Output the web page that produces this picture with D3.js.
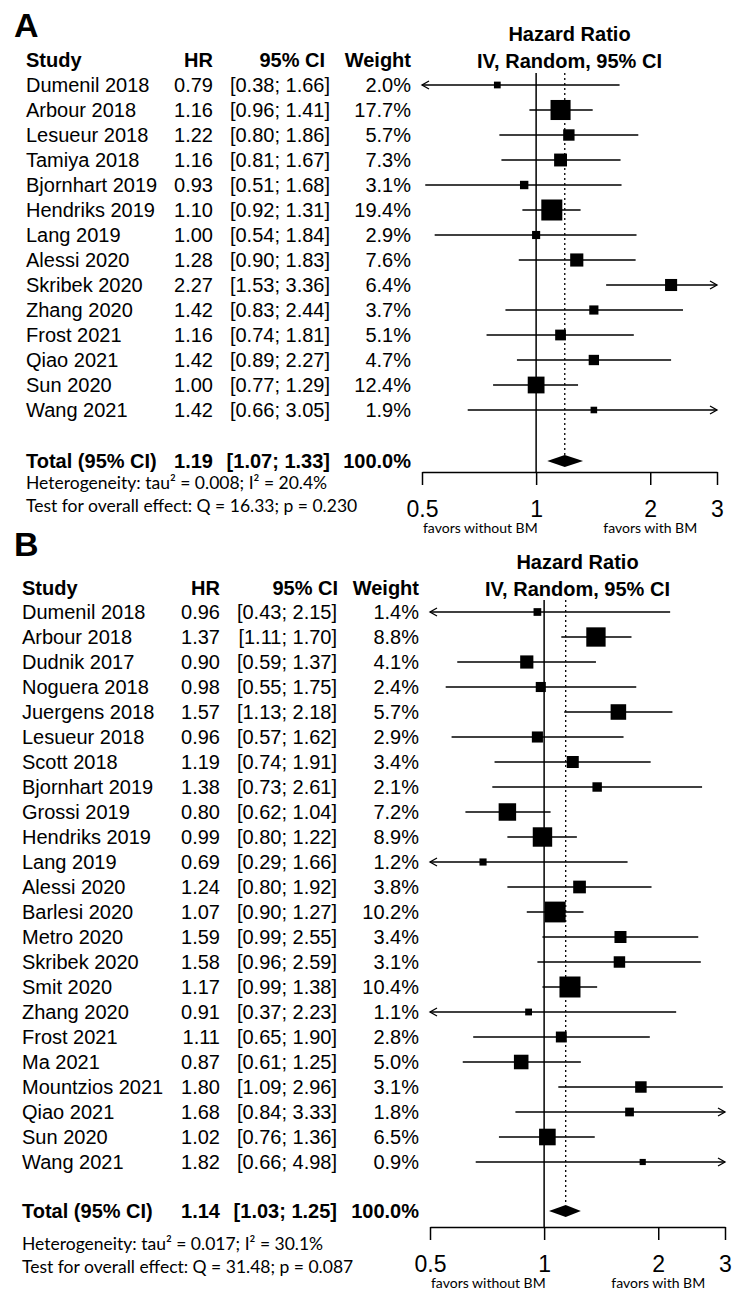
<!DOCTYPE html>
<html>
<head>
<meta charset="utf-8">
<script src="https://cdn.jsdelivr.net/npm/d3@7"></script>
<style>
  body { margin: 0; background: #fff; }
  svg text { font-family: "Liberation Sans", Arial, sans-serif; fill: #000; }
  .note { font-family: Lato, "Open Sans", sans-serif; }
</style>
</head>
<body>
<script>
// panel A data
const studiesA = ["Dumenil 2018","Arbour 2018","Lesueur 2018","Tamiya 2018","Bjornhart 2019","Hendriks 2019","Lang 2019","Alessi 2020","Skribek 2020","Zhang 2020","Frost 2021","Qiao 2021","Sun 2020","Wang 2021"];
const hrA    = [0.79,1.16,1.22,1.16,0.93,1.10,1.00,1.28,2.27,1.42,1.16,1.42,1.00,1.42];
const lowerA = [0.38,0.96,0.80,0.81,0.51,0.92,0.54,0.90,1.53,0.83,0.74,0.89,0.77,0.66];
const upperA = [1.66,1.41,1.86,1.67,1.68,1.31,1.84,1.83,3.36,2.44,1.81,2.27,1.29,3.05];
const weightA = [2.0,17.7,5.7,7.3,3.1,19.4,2.9,7.6,6.4,3.7,5.1,4.7,12.4,1.9];
const totalA = [1.19,1.07,1.33];
const notesA = ["Heterogeneity: tau\u00b2 = 0.008; I\u00b2 = 20.4%", "Test for overall effect: Q = 16.33; p = 0.230"];

// panel B data
const studiesB = ["Dumenil 2018","Arbour 2018","Dudnik 2017","Noguera 2018","Juergens 2018","Lesueur 2018","Scott 2018","Bjornhart 2019","Grossi 2019","Hendriks 2019","Lang 2019","Alessi 2020","Barlesi 2020","Metro 2020","Skribek 2020","Smit 2020","Zhang 2020","Frost 2021","Ma 2021","Mountzios 2021","Qiao 2021","Sun 2020","Wang 2021"];
const hrB    = [0.96,1.37,0.90,0.98,1.57,0.96,1.19,1.38,0.80,0.99,0.69,1.24,1.07,1.59,1.58,1.17,0.91,1.11,0.87,1.80,1.68,1.02,1.82];
const lowerB = [0.43,1.11,0.59,0.55,1.13,0.57,0.74,0.73,0.62,0.80,0.29,0.80,0.90,0.99,0.96,0.99,0.37,0.65,0.61,1.09,0.84,0.76,0.66];
const upperB = [2.15,1.70,1.37,1.75,2.18,1.62,1.91,2.61,1.04,1.22,1.66,1.92,1.27,2.55,2.59,1.38,2.23,1.90,1.25,2.96,3.33,1.36,4.98];
const weightB = [1.4,8.8,4.1,2.4,5.7,2.9,3.4,2.1,7.2,8.9,1.2,3.8,10.2,3.4,3.1,10.4,1.1,2.8,5.0,3.1,1.8,6.5,0.9];
const totalB = [1.14,1.03,1.25];
const notesB = ["Heterogeneity: tau\u00b2 = 0.017; I\u00b2 = 30.1%", "Test for overall effect: Q = 31.48; p = 0.087"];

const ticks = [0.5, 1, 2, 3];

const svg = d3.select("body").append("svg")
    .attr("width", 751)
    .attr("height", 1294);

function drawPanel(o) {
    const g = svg.append("g");
    const n = o.studies.length;
    const x = d3.scaleLog().domain([0.5, 3]).range(o.xr);
    const y = d3.scaleLinear().domain([0, n - 1]).range([o.top, o.top + (n - 1) * 25]);
    const side = d3.scaleSqrt().domain([0, d3.max(o.weight)]).range([0, 21]);
    const mid = (o.xr[0] + o.xr[1]) / 2;

    g.append("text").attr("x", 14).attr("y", o.labelY)
        .style("font-size", "34px").style("font-weight", "bold").text(o.label);

    // column headers
    const hdr = g.append("g").style("font-size", "20px").style("font-weight", "bold");
    hdr.append("text").attr("x", o.col.study).attr("y", o.headY).text("Study");
    hdr.append("text").attr("x", o.col.hr).attr("y", o.headY).attr("text-anchor", "end").text("HR");
    hdr.append("text").attr("x", o.col.ciHead).attr("y", o.headY).attr("text-anchor", "end").text("95% CI");
    hdr.append("text").attr("x", o.col.w).attr("y", o.headY).attr("text-anchor", "end").text("Weight");
    hdr.append("text").attr("x", mid).attr("y", o.headY - 26).attr("text-anchor", "middle").text("Hazard Ratio");
    hdr.append("text").attr("x", mid).attr("y", o.headY + 1).attr("text-anchor", "middle").text("IV, Random, 95% CI");

    // study rows text
    const rows = g.selectAll(".row").data(o.studies).enter().append("g")
        .style("font-size", "20px");
    rows.append("text").attr("x", o.col.study).attr("y", (d, i) => y(i) + 7).text(d => d);
    rows.append("text").attr("x", o.col.hr).attr("y", (d, i) => y(i) + 7).attr("text-anchor", "end")
        .text((d, i) => o.hr[i].toFixed(2));
    rows.append("text").attr("x", o.col.ci).attr("y", (d, i) => y(i) + 7).attr("text-anchor", "end")
        .text((d, i) => `[${o.lower[i].toFixed(2)}; ${o.upper[i].toFixed(2)}]`);
    rows.append("text").attr("x", o.col.w).attr("y", (d, i) => y(i) + 7).attr("text-anchor", "end")
        .text((d, i) => o.weight[i].toFixed(1) + "%");

    // total row
    const tot = g.append("g").style("font-size", "20px").style("font-weight", "bold");
    tot.append("text").attr("x", o.col.study).attr("y", o.totalY + 7).text("Total (95% CI)");
    tot.append("text").attr("x", o.col.hr).attr("y", o.totalY + 7).attr("text-anchor", "end").text(o.total[0].toFixed(2));
    tot.append("text").attr("x", o.col.ci).attr("y", o.totalY + 7).attr("text-anchor", "end")
        .text(`[${o.total[1].toFixed(2)}; ${o.total[2].toFixed(2)}]`);
    tot.append("text").attr("x", o.col.w).attr("y", o.totalY + 7).attr("text-anchor", "end").text("100.0%");

    g.selectAll(".note").data(o.notes).enter().append("text")
        .attr("class", "note")
        .attr("x", o.col.study).attr("y", (d, i) => o.noteY + i * 23)
        .style("font-size", "17.5px").text(d => d);

    // reference lines
    g.append("line").attr("x1", x(1)).attr("x2", x(1))
        .attr("y1", o.top - 12).attr("y2", o.axisY)
        .attr("stroke", "#000").attr("stroke-width", 1.5);
    g.append("line").attr("x1", x(o.total[0])).attr("x2", x(o.total[0]))
        .attr("y1", o.top - 12).attr("y2", o.totalY - 6)
        .attr("stroke", "#000").attr("stroke-width", 1.3).attr("stroke-dasharray", "2,3");

    // CI lines
    const lo = v => Math.max(v, 0.5), hi = v => Math.min(v, 3);
    g.selectAll(".ci").data(o.studies).enter().append("line")
        .attr("x1", (d, i) => x(lo(o.lower[i]))).attr("x2", (d, i) => x(hi(o.upper[i])))
        .attr("y1", (d, i) => y(i)).attr("y2", (d, i) => y(i))
        .attr("stroke", "#000").attr("stroke-width", 1.3);

    // arrowheads where CI runs past the axis
    g.selectAll(".arrL").data(o.studies.map((d, i) => i).filter(i => o.lower[i] < 0.5)).enter().append("path")
        .attr("d", i => `M${x(0.5) + 7},${y(i) - 4}L${x(0.5)},${y(i)}L${x(0.5) + 7},${y(i) + 4}`)
        .attr("fill", "none").attr("stroke", "#000").attr("stroke-width", 1.3);
    g.selectAll(".arrR").data(o.studies.map((d, i) => i).filter(i => o.upper[i] > 3)).enter().append("path")
        .attr("d", i => `M${x(3) - 7},${y(i) - 4}L${x(3)},${y(i)}L${x(3) - 7},${y(i) + 4}`)
        .attr("fill", "none").attr("stroke", "#000").attr("stroke-width", 1.3);

    // squares
    g.selectAll(".sq").data(o.studies).enter().append("rect")
        .attr("x", (d, i) => x(o.hr[i]) - side(o.weight[i]) / 2)
        .attr("y", (d, i) => y(i) - side(o.weight[i]) / 2)
        .attr("width", (d, i) => side(o.weight[i]))
        .attr("height", (d, i) => side(o.weight[i]))
        .attr("fill", "#000");

    // pooled diamond
    g.append("path")
        .attr("d", `M${x(o.total[1])},${o.totalY}L${x(o.total[0])},${o.totalY - 6}L${x(o.total[2])},${o.totalY}L${x(o.total[0])},${o.totalY + 6}Z`)
        .attr("fill", "#000");

    // axis
    const ax = g.append("g").attr("transform", `translate(0,${o.axisY})`)
        .call(d3.axisBottom(x).tickValues(ticks).tickFormat(d => String(d))
            .tickSize(13).tickSizeOuter(0).tickPadding(16));
    ax.select(".domain").attr("stroke-width", 1.5);
    ax.selectAll(".tick line").attr("stroke-width", 1.5);
    ax.selectAll(".tick text").style("font-size", "23px").style("font-family", "Liberation Sans, Arial, sans-serif");

    g.append("text").attr("class", "note").attr("x", x(0.5) + 1).attr("y", o.axisY + 61)
        .style("font-size", "14px").text("favors without BM");
    g.append("text").attr("class", "note").attr("x", x(2)).attr("y", o.axisY + 61)
        .attr("text-anchor", "middle").style("font-size", "14px").text("favors with BM");
}

drawPanel({
    label: "A", labelY: 37,
    studies: studiesA, hr: hrA, lower: lowerA, upper: upperA, weight: weightA,
    total: totalA, notes: notesA,
    xr: [422, 717], top: 85, headY: 67, totalY: 461, noteY: 489, axisY: 472,
    col: { study: 26, hr: 213, ciHead: 325, ci: 330, w: 411 }
});

drawPanel({
    label: "B", labelY: 556,
    studies: studiesB, hr: hrB, lower: lowerB, upper: upperB, weight: weightB,
    total: totalB, notes: notesB,
    xr: [430, 725], top: 612, headY: 595, totalY: 1211, noteY: 1250, axisY: 1227,
    col: { study: 22, hr: 220, ciHead: 338, ci: 337, w: 419 }
});
</script>
</body>
</html>
